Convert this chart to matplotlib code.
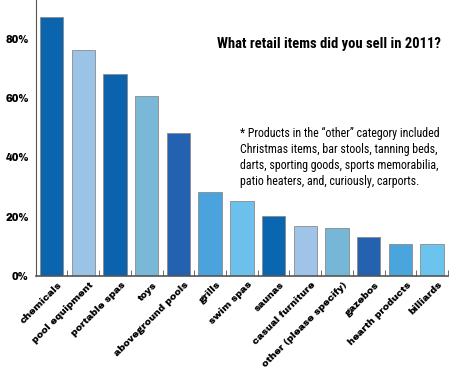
import matplotlib
matplotlib.use('Agg')
import matplotlib.pyplot as plt
import matplotlib.transforms as mtransforms
from matplotlib import font_manager
from matplotlib.ticker import FuncFormatter

categories = ['chemicals', 'pool equipment', 'portable spas', 'toys', 'aboveground pools',
              'grills', 'swim spas', 'saunas', 'casual furniture', 'other (please specify)',
              'gazebos', 'hearth products', 'billiards']
percent = [87.3, 76.3, 67.9, 60.8, 48.3, 28.3, 25.3, 20.1, 16.9, 16.1, 13.2, 10.7, 10.7]
colors = ['#0a64ae', '#9bc3e6', '#0b63ad', '#79b8d6', '#2461b0', '#4aa3dc', '#6cc0ec',
          '#0a66b0', '#9fc4e8', '#76b6d6', '#2462b0', '#4aa5dc', '#6cc4ee']
yticks = [0, 20, 40, 60, 80]

title = 'What retail items did you sell in 2011?'
note = ('* Products in the \u201cother\u201d category included\n'
        'Christmas items, bar stools, tanning beds,\n'
        'darts, sporting goods, sports memorabilia,\n'
        'patio heaters, and, curiously, carports.')

installed = set(f.name for f in font_manager.fontManager.ttflist)

def pick(cands):
    return [c for c in cands if c in installed] + ['DejaVu Sans']

heavy = pick(['Archivo Black', 'Arimo', 'Liberation Sans'])
narrow = pick(['Roboto Condensed', 'Barlow Condensed', 'Archivo Narrow', 'PT Sans Narrow',
               'Oswald', 'Fjalla One'])

fig = plt.figure(figsize=(4.52, 3.67), dpi=100)
ax = fig.add_axes([0.079, 0.248, 0.912, 0.752])

x = range(len(categories))
ax.bar(x, percent, width=0.74, color=colors, edgecolor='#8a8a8a', linewidth=0.6)

ax.set_xlim(-0.5, len(categories) - 0.5)
ax.set_ylim(0, 93)
ax.set_yticks(yticks)
ax.yaxis.set_major_formatter(FuncFormatter(lambda v, p: '%d%%' % v))
ax.tick_params(axis='y', length=0, pad=5)
for lab in ax.get_yticklabels():
    lab.set_fontweight('black')
    lab.set_family(heavy)
    lab.set_fontsize(7.3)

ax.set_xticks([i + 0.5 for i in range(len(categories))], minor=True)
ax.set_xticks(list(x))
ax.set_xticklabels(categories, rotation=45, ha='right', rotation_mode='anchor',
                   fontsize=7.0, fontweight='black', family=heavy)
ax.tick_params(axis='x', which='major', length=0, pad=3)
ax.tick_params(axis='x', which='minor', direction='in', length=4, color='#555555')
shift = mtransforms.ScaledTranslation(6 / 100, 0, fig.dpi_scale_trans)
for lab in ax.get_xticklabels():
    lab.set_transform(lab.get_transform() + shift)

for s in ['top', 'right']:
    ax.spines[s].set_visible(False)
ax.spines['left'].set_color('#555555')
ax.spines['bottom'].set_color('#555555')
ax.spines['bottom'].set_linewidth(1.2)

fig.text(0.976, 0.880, title, ha='right', va='center', fontsize=10.5,
         fontweight='bold', family=narrow)
fig.text(0.532, 0.654, note, ha='left', va='top', fontsize=8.6, linespacing=1.3,
         family=narrow)

fig.savefig('out.png', dpi=100)
